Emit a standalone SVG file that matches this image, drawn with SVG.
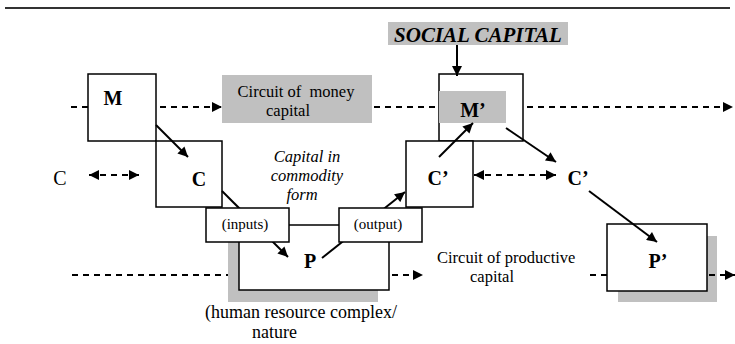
<svg xmlns="http://www.w3.org/2000/svg" width="735" height="344" viewBox="0 0 735 344">
<style>
text{font-family:"Liberation Serif","Times New Roman",serif;fill:#000}
.box{fill:#fff;stroke:#000;stroke-width:1.5}
.gray{fill:#c0c0c0;stroke:none}
.b{font-weight:bold;font-size:20px}
.t{font-size:16.5px}
.i{font-style:italic;font-size:16.5px}
.s{font-size:15px}
.dash{fill:none;stroke:#000;stroke-width:2;stroke-dasharray:6,5}
.arr{fill:none;stroke:#000;stroke-width:2}
</style>
<defs>
<marker id="ah" viewBox="0 0 10 10" refX="10" refY="5" markerWidth="11" markerHeight="10" markerUnits="userSpaceOnUse" orient="auto-start-reverse">
<path d="M0,0 L10,5 L0,10 Z" fill="#000"/>
</marker>
</defs>
<line x1="5" y1="8" x2="730" y2="8" stroke="#333" stroke-width="2"/>
<g id="social">
<rect class="gray" x="388" y="22" width="180" height="23"/>
<text x="478" y="42" text-anchor="middle" font-weight="bold" font-style="italic" font-size="21">SOCIAL CAPITAL</text>
</g>
<g id="M">
<rect class="box" x="88" y="74" width="68" height="67"/>
<text class="b" x="113" y="105" text-anchor="middle">M</text>
</g>
<g id="C">
<rect class="box" x="156" y="141" width="66" height="66"/>
<text class="b" x="199" y="186" text-anchor="middle">C</text>
</g>
<g id="money">
<rect class="gray" x="222" y="75" width="150" height="48"/>
<text class="t" x="296" y="97" text-anchor="middle" xml:space="preserve">Circuit of  money</text>
<text class="t" x="288" y="116" text-anchor="middle">capital</text>
</g>
<g id="Mprime">
<rect class="box" x="439" y="74" width="84" height="67"/>
<rect class="gray" x="439" y="91" width="67" height="32"/>
<text class="b" x="473" y="117" text-anchor="middle">M’</text>
</g>
<g id="Cprime">
<rect class="box" x="406" y="141" width="67" height="66"/>
<text class="b" x="438" y="185" text-anchor="middle">C’</text>
</g>
<g id="Cprime2">
<text class="b" x="578" y="185" text-anchor="middle">C’</text>
</g>
<g id="Cleft">
<text x="60" y="185" text-anchor="middle" font-size="20">C</text>
</g>
<g id="commodity">
<text class="i" x="307" y="162" text-anchor="middle">Capital in</text>
<text class="i" x="307" y="181" text-anchor="middle">commodity</text>
<text class="i" x="302" y="200" text-anchor="middle">form</text>
</g>
<g id="P">
<rect class="gray" x="228" y="237" width="150" height="65"/>
<rect class="box" x="239" y="225" width="150" height="65"/>
<text class="b" x="310" y="268" text-anchor="middle">P</text>
</g>
<g id="Pprime">
<rect class="gray" x="618" y="236" width="99" height="66"/>
<rect class="box" x="607" y="224" width="100" height="67"/>
<text class="b" x="658" y="268" text-anchor="middle">P’</text>
</g>
<g id="connectors">
<line class="dash" x1="71" y1="107" x2="88" y2="107"/>
<line class="dash" x1="160" y1="107" x2="222" y2="107" marker-end="url(#ah)"/>
<line class="dash" x1="374" y1="107" x2="439" y2="107"/>
<line class="dash" x1="527" y1="107" x2="733" y2="107" marker-end="url(#ah)"/>
<line class="dash" x1="72" y1="275" x2="228" y2="275"/>
<line class="dash" x1="392" y1="275" x2="423" y2="275" marker-end="url(#ah)"/>
<line class="dash" x1="590" y1="275" x2="607" y2="275"/>
<line class="dash" x1="709" y1="275" x2="735" y2="275" marker-end="url(#ah)"/>
<line class="dash" x1="89" y1="175" x2="139" y2="175" marker-start="url(#ah)" marker-end="url(#ah)"/>
<line class="dash" x1="474" y1="175" x2="556" y2="175" marker-start="url(#ah)" marker-end="url(#ah)"/>
<line class="arr" x1="457" y1="45" x2="457" y2="76" marker-end="url(#ah)"/>
<line class="arr" x1="156" y1="125" x2="188" y2="157" marker-end="url(#ah)"/>
<line class="arr" x1="222" y1="191" x2="288" y2="257" marker-end="url(#ah)"/>
<line class="arr" x1="322" y1="258" x2="405" y2="192" marker-end="url(#ah)"/>
<line class="arr" x1="439" y1="157" x2="473" y2="123" marker-end="url(#ah)"/>
<line class="arr" x1="506" y1="128" x2="556" y2="162" marker-end="url(#ah)"/>
<line class="arr" x1="589" y1="191" x2="657" y2="242" marker-end="url(#ah)"/>
</g>
<g id="inputs">
<rect class="box" x="206" y="208" width="83" height="34"/>
<text class="s" x="245" y="229" text-anchor="middle">(inputs)</text>
</g>
<g id="output">
<rect class="box" x="339" y="208" width="83" height="34"/>
<text class="s" x="378" y="229" text-anchor="middle">(output)</text>
</g>
<g id="productive">
<text class="t" x="437" y="263">Circuit of productive</text>
<text class="t" x="492" y="282" text-anchor="middle">capital</text>
</g>
<g id="human">
<text x="205" y="318" font-size="18">(human resource complex/</text>
<text x="252" y="338" font-size="18">nature</text>
</g>
</svg>
